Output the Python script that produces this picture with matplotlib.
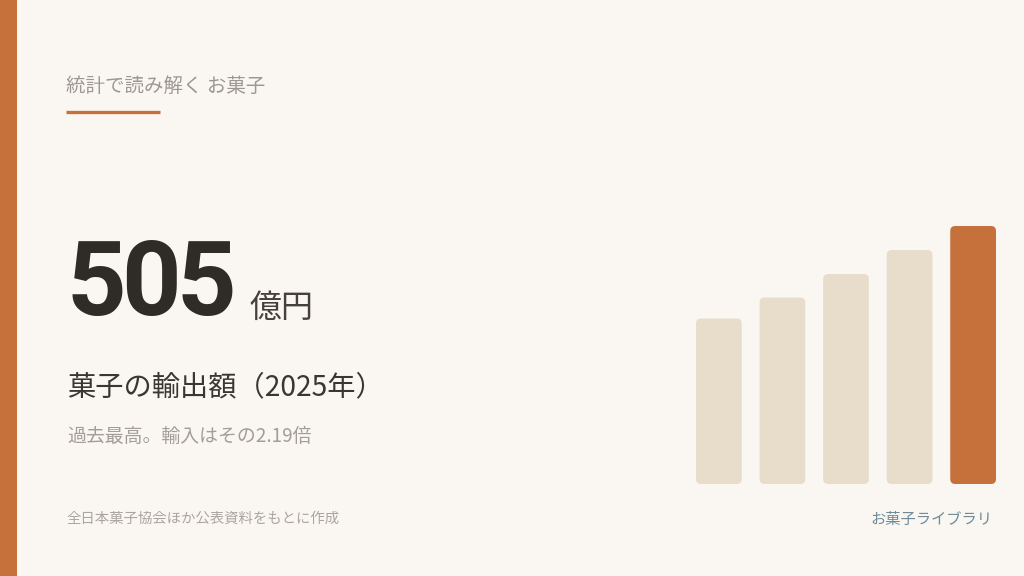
import matplotlib
matplotlib.use('Agg')
import matplotlib.pyplot as plt
from matplotlib.patches import FancyBboxPatch, Rectangle
from matplotlib.lines import Line2D

plt.rcParams['font.family'] = ['Noto Sans CJK JP', 'DejaVu Sans']

# Data
YEARS = ['2021', '2022', '2023', '2024', '2025']
EXPORT_VALUES = [324, 365, 411, 458, 505]  # 億円
HIGHLIGHT = '2025'

HEADER = '統計で読み解く お菓子'
BIG_NUMBER = '505'
UNIT = '億円'
TITLE = '菓子の輸出額（2025年）'
SUBTITLE = '過去最高。輸入はその2.19倍'
SOURCE = '全日本菓子協会ほか公表資料をもとに作成'
BRAND = 'お菓子ライブラリ'

# Colors
BG = '#FAF7F2'
ORANGE = '#C6703C'
BAR_LIGHT = '#E8DDCB'
DARK = '#2F2B27'
W, H = 1024, 576


def px(x, y):
    """Pixel coordinates (top-left origin) to figure fraction."""
    return x / W, 1 - y / H


fig = plt.figure(figsize=(W / 100, H / 100), dpi=100, facecolor=BG)

# Left accent stripe
fig.patches.append(Rectangle((0, 0), 17 / W, 1, transform=fig.transFigure,
                             facecolor=ORANGE, edgecolor='none'))

# Header and underline
fig.text(*px(66, 86), HEADER, fontsize=14, color='#9C9792', va='center', ha='left')
x0, y0 = px(66, 112)
x1, _ = px(160, 112)
fig.lines.append(Line2D([x0, x1], [y0, y0], transform=fig.transFigure,
                        color=ORANGE, linewidth=2.4, solid_capstyle='butt'))

# Big number, one glyph per step so the spacing can be set
digit_pitch = 54.5
for i, ch in enumerate(BIG_NUMBER):
    fig.text(*px(67 + i * digit_pitch, 315), ch, fontsize=75, fontweight='bold',
             family=['Roboto', 'DejaVu Sans'], color=DARK,
             va='baseline', ha='left')
fig.text(*px(249, 317), UNIT, fontsize=23, color='#45403B', va='baseline', ha='left')

# Title / subtitle
fig.text(*px(67, 387), TITLE, fontsize=20.3, color='#3A3632', va='center', ha='left')
fig.text(*px(67, 436), SUBTITLE, fontsize=13.6, color='#A39D97', va='center', ha='left')

# Footer
fig.text(*px(66, 519), SOURCE, fontsize=10.4, color='#ABA59F', va='center', ha='left')
fig.text(*px(992, 519), BRAND, fontsize=11, color='#6F8A9B', va='center', ha='right')

# Bar chart
ax = fig.add_axes([696 / W, 92 / H, 300 / W, 258 / H])
ax.set_facecolor('none')
bar_width = 0.72
ax.set_xlim(-bar_width / 2, len(YEARS) - 1 + bar_width / 2)
ax.set_ylim(0, max(EXPORT_VALUES))
ax.axis('off')

bars = ax.bar(range(len(YEARS)), EXPORT_VALUES, width=bar_width)
(ax_x0, ax_y0), (ax_x1, ax_y1) = ax.transData.transform([(0, 0), (1, 1)])
aspect = (ax_x1 - ax_x0) / (ax_y1 - ax_y0)
radius_px = 5
for year, bar in zip(YEARS, bars):
    bx, by = bar.get_x(), bar.get_y()
    bw, bh = bar.get_width(), bar.get_height()
    bar.remove()
    color = ORANGE if year == HIGHLIGHT else BAR_LIGHT
    patch = FancyBboxPatch((bx, by), bw, bh,
                           boxstyle=f'round,pad=0,rounding_size={radius_px / (ax_x1 - ax_x0)}',
                           mutation_aspect=aspect,
                           facecolor=color, edgecolor='none')
    ax.add_patch(patch)

fig.savefig('out.png', dpi=100, facecolor=BG)
